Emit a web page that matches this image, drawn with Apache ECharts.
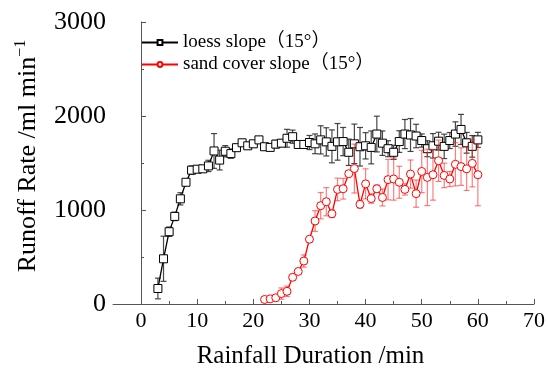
<!DOCTYPE html>
<html>
<head>
<meta charset="utf-8">
<script src="https://cdn.jsdelivr.net/npm/echarts@6/dist/echarts.min.js"></script>
<style>
  html, body { margin: 0; padding: 0; background: #fff; }
  #main { width: 548px; height: 374px; }
</style>
</head>
<body>
<div id="main"></div>
<script>
// 黄土坡面 (loess slope)
const loessTime = [3, 4, 5, 6, 7, 8, 9, 10, 11, 12, 13, 14, 15, 16, 17, 18, 19, 20, 21, 22, 23, 24, 25, 26, 27, 28, 29, 30, 31, 32, 33, 34, 35, 36, 37, 38, 39, 40, 41, 42, 43, 44, 45, 46, 47, 48, 49, 50, 51, 52, 53, 54, 55, 56, 57, 58, 59, 60];
const loessRate = [165, 481, 769, 932, 1119, 1295, 1424, 1434, 1438, 1469, 1628, 1531, 1625, 1600, 1663, 1715, 1683, 1704, 1746, 1673, 1666, 1701, 1711, 1763, 1780, 1697, 1697, 1718, 1704, 1746, 1725, 1677, 1725, 1728, 1614, 1704, 1673, 1683, 1666, 1808, 1711, 1652, 1614, 1728, 1808, 1798, 1787, 1739, 1652, 1683, 1732, 1677, 1739, 1808, 1857, 1715, 1677, 1746];
const loessErr = [110, 240, 50, 45, 65, 30, 45, 30, 30, 60, 185, 105, 60, 50, 20, 20, 20, 20, 20, 20, 20, 40, 35, 95, 70, 25, 40, 75, 105, 150, 150, 175, 195, 150, 140, 210, 205, 140, 175, 190, 130, 85, 75, 115, 155, 175, 125, 70, 85, 130, 95, 130, 85, 130, 160, 110, 115, 80];

// 覆沙坡面 (sand cover slope)
const sandTime = [22, 23, 24, 25, 26, 27, 28, 29, 30, 31, 32, 33, 34, 35, 36, 37, 38, 39, 40, 41, 42, 43, 44, 45, 46, 47, 48, 49, 50, 51, 52, 53, 54, 55, 56, 57, 58, 59, 60];
const sandRate = [48, 55, 66, 111, 135, 284, 346, 457, 689, 883, 1046, 1088, 960, 1219, 1226, 1386, 1441, 1060, 1278, 1122, 1226, 1133, 1323, 1330, 1295, 1219, 1382, 1174, 1410, 1347, 1375, 1524, 1368, 1330, 1486, 1462, 1438, 1496, 1375];
const sandErr = [15, 20, 30, 60, 55, 30, 30, 65, 30, 110, 140, 150, 40, 120, 110, 30, 260, 40, 160, 50, 40, 90, 215, 225, 170, 60, 150, 145, 225, 300, 270, 220, 130, 80, 230, 200, 230, 250, 330];

const xMajor = [0, 10, 20, 30, 40, 50, 60, 70];
const xMinor = [5, 15, 25, 35, 45, 55, 65];

const serif = '"Liberation Serif", "Noto Sans CJK SC", serif';

function pts(xs, ys) {
  return xs.map((x, i) => [x, ys[i]]);
}
function errRows(xs, ys, es) {
  return xs.map((x, i) => [x, ys[i], es[i]]);
}

function errorBar(color) {
  return function (params, api) {
    const x = api.value(0), y = api.value(1), e = api.value(2);
    const hi = api.coord([x, y + e]);
    const lo = api.coord([x, y - e]);
    const cap = 3;
    const style = { stroke: color, lineWidth: 1.2 };
    return {
      type: 'group',
      children: [
        { type: 'line', shape: { x1: hi[0], y1: hi[1], x2: lo[0], y2: lo[1] }, style: style },
        { type: 'line', shape: { x1: hi[0] - cap, y1: hi[1], x2: hi[0] + cap, y2: hi[1] }, style: style },
        { type: 'line', shape: { x1: lo[0] - cap, y1: lo[1], x2: lo[0] + cap, y2: lo[1] }, style: style }
      ]
    };
  };
}

const chart = echarts.init(document.getElementById('main'));
const axisLine = { lineStyle: { color: '#555', width: 1 } };

const option = {
  animation: false,
  backgroundColor: '#fff',
  grid: { left: 113, right: 13, top: 22, bottom: 63 },
  legend: {
    orient: 'vertical',
    left: 136,
    top: 28,
    itemWidth: 36,
    itemHeight: 6,
    itemGap: 3,
    textStyle: { fontFamily: serif, fontSize: 19, color: '#000' },
    data: ['loess slope（15°）', 'sand cover slope（15°）']
  },
  xAxis: [
    {
      type: 'value',
      min: -5,
      max: 70,
      name: 'Rainfall Duration /min',
      nameLocation: 'middle',
      nameGap: 40,
      nameTextStyle: { fontFamily: serif, fontSize: 25, color: '#000', padding: [0, 26, 0, 0] },
      axisLine: axisLine,
      axisTick: { inside: true, length: 5, customValues: xMajor, lineStyle: { color: '#555' } },
      axisLabel: { customValues: xMajor, fontFamily: serif, fontSize: 22, color: '#000', margin: 6 },
      splitLine: { show: false }
    },
    {
      type: 'value',
      position: 'bottom',
      min: -5,
      max: 70,
      axisLine: { show: false },
      axisTick: { inside: true, length: 3, customValues: xMinor, lineStyle: { color: '#555' } },
      axisLabel: { show: false },
      splitLine: { show: false }
    }
  ],
  yAxis: {
    type: 'value',
    min: 0,
    max: 3000,
    interval: 1000,
    name: '{a|Runoff Rate /ml min}{s|−1}',
    nameLocation: 'middle',
    nameRotate: 90,
    nameGap: 70,
    nameTextStyle: {
      fontFamily: serif,
      color: '#000',
      padding: [0, 0, 0, 14],
      rich: {
        a: { fontFamily: serif, fontSize: 26, color: '#000', lineHeight: 30 },
        s: { fontFamily: serif, fontSize: 16, color: '#000', verticalAlign: 'top', lineHeight: 30 }
      }
    },
    axisLine: { show: true, lineStyle: { color: '#555', width: 1 } },
    axisTick: { show: true, inside: true, length: 5, lineStyle: { color: '#555' } },
    minorTick: { show: true, splitNumber: 2, length: 3, lineStyle: { color: '#555' } },
    axisLabel: {
      fontFamily: serif,
      fontSize: 26,
      color: '#000',
      margin: 7,
      formatter: (v) => String(v)
    },
    splitLine: { show: false }
  },
  series: [
    {
      name: 'loess err',
      type: 'custom',
      renderItem: errorBar('rgba(40,40,40,0.85)'),
      data: errRows(loessTime, loessRate, loessErr),
      encode: { x: 0, y: 1 },
      z: 1,
      silent: true
    },
    {
      name: 'loess slope（15°）',
      type: 'line',
      data: pts(loessTime, loessRate),
      symbol: 'rect',
      symbolSize: 8,
      itemStyle: { color: '#fff', borderColor: '#000', borderWidth: 1 },
      lineStyle: { color: '#000', width: 1.3 },
      z: 2
    },
    {
      name: 'sand err',
      type: 'custom',
      renderItem: errorBar('rgba(255,40,40,0.6)'),
      data: errRows(sandTime, sandRate, sandErr),
      encode: { x: 0, y: 1 },
      z: 3,
      silent: true
    },
    {
      name: 'sand cover slope（15°）',
      type: 'line',
      data: pts(sandTime, sandRate),
      symbol: 'circle',
      symbolSize: 8,
      itemStyle: { color: '#fff', borderColor: '#f00', borderWidth: 1 },
      lineStyle: { color: '#f00', width: 1.3 },
      z: 4
    }
  ]
};

chart.setOption(option);
</script>
</body>
</html>
